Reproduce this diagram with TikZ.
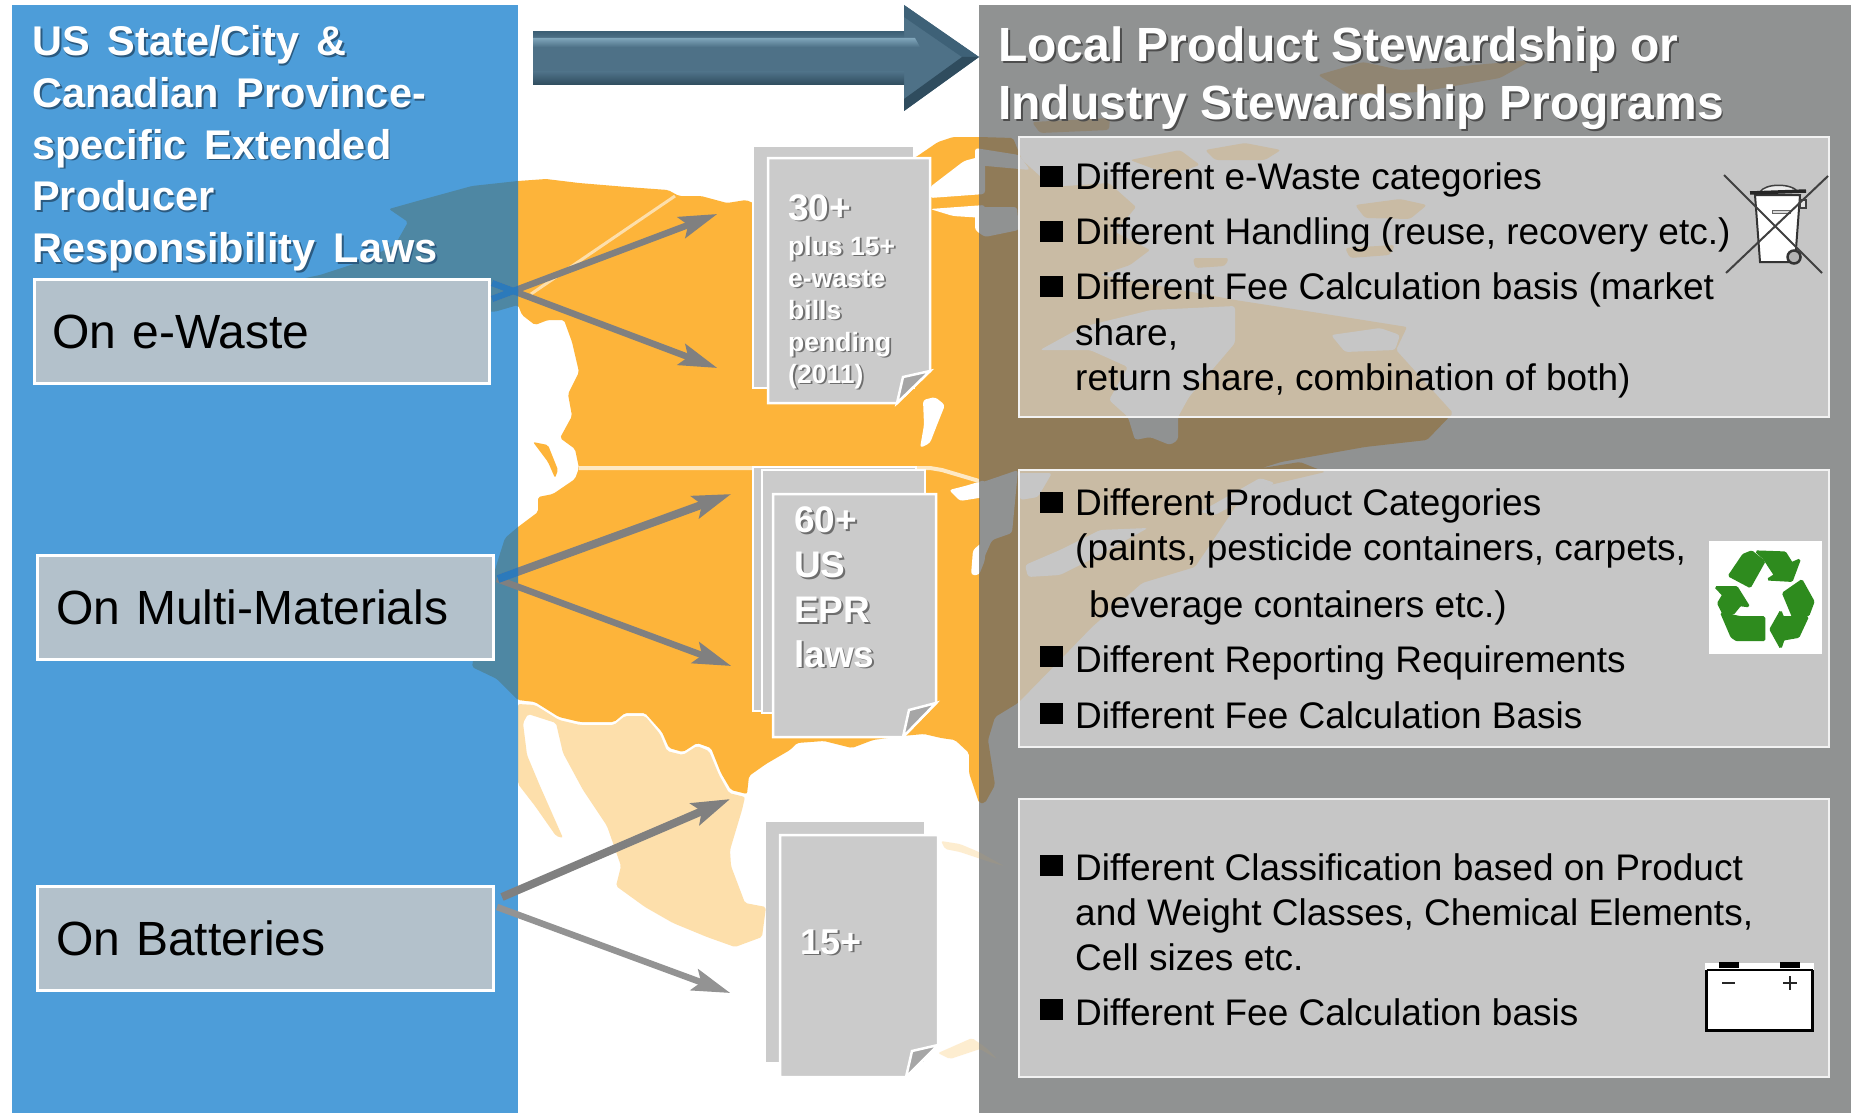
\documentclass[tikz,border=0pt]{standalone}
\usepackage{fontspec}
\setmainfont{Liberation Sans}
\newfontfamily\ltfont[WordSpace=1.55]{Liberation Sans}
\usetikzlibrary{arrows.meta,calc}
\definecolor{panelblue}{HTML}{4D9DD9}
\definecolor{panelgray}{HTML}{909292}
\definecolor{teal}{HTML}{4E87A3}
\definecolor{orangeland}{HTML}{FDB43A}
\definecolor{paleland}{HTML}{FDDFAB}
\definecolor{tanland}{HTML}{907B58}
\definecolor{tanbox}{HTML}{C9BBA4}
\definecolor{boxgray}{HTML}{C6C6C6}
\definecolor{leftfill}{HTML}{B3C1CB}
\definecolor{docfill}{HTML}{CBCBCB}
\definecolor{foldfill}{HTML}{A6A6A6}
\definecolor{arrowblue}{HTML}{2C7ABB}
\definecolor{recgreen}{HTML}{2E8B1E}
\definecolor{HTMLarrow}{HTML}{4E7187}
\definecolor{HTMLarrowb}{HTML}{3E6177}
\definecolor{HTMLarrowl}{HTML}{80A6BB}
\definecolor{HTMLarrowd}{HTML}{2F4C5E}
\definecolor{HTMLgrayarrow}{HTML}{808080}
\definecolor{HTMLgrayarrowb}{HTML}{939393}
\definecolor{HTMLshblue}{HTML}{2B5A80}
\definecolor{HTMLshgray}{HTML}{4D4D4D}
\definecolor{HTMLshdoc}{HTML}{6E6E6E}
\colorlet{shcol}{black}
\newcommand\shad[1]{\rlap{\kern1.8pt\raisebox{-1.8pt}{\color{shcol}#1}}#1}
\newcommand\mappaint[3]{%
 \fill[fill=#1,rounded corners=2pt] (389,209)--(421,200)--(472,186)--(518,181)--(546,179)--(579,183)--(627,187)--(668,190)--(679,196)--(701,196)--(727,203)--(746,200)--(753,203)--(850,190)--(916,157)--(938,142)--(953,137)--(979,137)--(1013,138)--(1022,160)--(1052,187)--(1109,183)--(1136,207)--(1115,232)--(1150,250)--(1130,265)--(1100,275)--(1235,300)--(1319,313)--(1407,327)--(1396,350)--(1453,413)--(1427,440)--(1365,447)--(1281,462)--(1262,468)--(1300,462)--(1325,472)--(1270,485)--(1240,500)--(1195,567)--(1142,583)--(1092,627)--(1060,660)--(1018,703)--(995,717)--(988,740)--(995,785)--(985,803)--(979,803)--(969,773)--(969,753)--(955,740)--(941,738)--(924,734)--(902,736)--(873,740)--(852,748)--(824,741)--(797,743)--(790,750)--(766,764)--(749,776)--(747,794)--(731,790)--(721,773)--(711,748)--(697,743)--(683,752)--(669,748)--(662,732)--(645,713)--(625,713)--(614,722)--(580,722)--(559,717)--(535,702)--(518,700)--(497,679)--(472,667)--(480,620)--(498,560)--(505,538)--(518,527)--(538,512)--(538,497)--(553,494)--(575,479)--(579,468)--(575,449)--(560,438)--(572,416)--(568,394)--(579,372)--(572,342)--(564,320)--(548,320)--(535,325)--(522,315)--(518,305)--(494,312)--(300,279)--(320,275)--(360,262)--(395,245)--(408,222)--cycle;
 \fill[fill=#2,rounded corners=2pt] (518,704)--(535,705)--(559,720)--(580,725)--(614,725)--(625,716)--(645,716)--(660,734)--(667,751)--(683,755)--(697,746)--(709,751)--(719,775)--(729,793)--(745,797)--(742,810)--(730,850)--(731,866)--(745,903)--(766,907)--(762,937)--(735,947)--(707,937)--(673,923)--(645,907)--(616,886)--(621,866)--(607,826)--(583,790)--(563,753)--(556,723)--(528,714)--(523,723)--(527,755)--(540,786)--(563,838)--(556,836)--(535,806)--(518,784)--cycle;
 \fill[fill=#3,rounded corners=3pt] (1040,350)--(1082,327)--(1151,310)--(1235,306)--(1235,343)--(1189,397)--(1178,417)--(1178,440)--(1170,445)--(1150,437)--(1135,440)--(1128,417)--(1109,400)--(1128,367)--(1090,350)--cycle;
 \fill[fill=#3,rounded corners=3pt] (1331,335)--(1380,328)--(1400,335)--(1395,350)--(1345,352)--cycle;
 \fill[fill=#3,rounded corners=3pt] (975,207)--(1017,207)--(1019,230)--(985,237)--(975,230)--cycle;
 \fill[fill=#3,rounded corners=3pt] (975,148)--(1019,155)--(1030,170)--(975,165)--cycle;
 \fill[fill=#3,rounded corners=3pt] (980,483)--(1018,470)--(1012,533)--(992,540)--(980,567)--cycle;
 \fill[fill=#3,rounded corners=3pt] (1018,473)--(1052,473)--(1038,497)--(1020,500)--cycle;
 \fill[fill=#3,rounded corners=3pt] (1025,565)--(1060,550)--(1100,530)--(1148,528)--(1090,560)--(1060,575)--(1028,577)--cycle;
 \fill[fill=#3,rounded corners=3pt] (1200,512)--(1260,478)--(1275,483)--(1215,515)--cycle;
 \fill[fill=#3,rounded corners=3pt] (971,575)--(973,550)--(985,540)--(985,560)--(979,575)--cycle;
 \fill[fill=#3,rounded corners=3pt] (949,490)--(965,486)--(985,480)--(985,497)--(960,501)--cycle;
 \fill[fill=#3,rounded corners=3pt] (923,400)--(935,397)--(945,405)--(937,425)--(930,443)--(920,448)--(924,425)--cycle;
 \fill[fill=#3,rounded corners=3pt] (930,187)--(964,161)--(979,157)--(985,157)--(985,194)--(930,198)--cycle;
 \fill[fill=#3,rounded corners=3pt] (930,209)--(985,205)--(985,218)--(953,216)--cycle;
 \begin{scope}[opacity=.55]
 \fill[fill=#1,rounded corners=3pt] (1318,75)--(1363,62)--(1400,70)--(1440,68)--(1532,60)--(1500,78)--(1420,92)--(1350,95)--cycle;
 \fill[fill=#1,rounded corners=3pt] (1032,122)--(1110,118)--(1109,130)--(1040,133)--cycle;
 \end{scope}
 \fill[fill=#1,rounded corners=3pt] (1205,150)--(1245,143)--(1281,150)--(1265,160)--(1215,160)--cycle;
 \fill[fill=#1,rounded corners=3pt] (1130,160)--(1180,150)--(1200,165)--(1170,175)--cycle;
 \fill[fill=#1,rounded corners=3pt] (1193,258)--(1229,258)--(1225,266)--(1195,268)--cycle;
 \fill[fill=#1,rounded corners=3pt] (1355,205)--(1400,199)--(1427,205)--(1410,219)--(1365,218)--cycle;
 \fill[fill=#1,rounded corners=3pt] (1345,248)--(1395,245)--(1390,255)--(1350,258)--cycle;
 \fill[fill=#1,rounded corners=2pt] (533,442)--(548,445)--(558,470)--(555,478)--(548,462)--cycle;
 \begin{scope}[opacity=.55]
 \fill[fill=#2,rounded corners=2pt] (941,841)--(960,844)--(979,852)--(1004,866)--(990,862)--(960,852)--(945,849)--cycle;
 \fill[fill=#2,rounded corners=2pt] (938,1053)--(972,1038)--(985,1047)--(997,1059)--(980,1049)--(950,1059)--cycle;
 \end{scope}
}
\tikzset{
 leftbox/.style={draw=white,line width=3pt,fill=leftfill,minimum width=455pt,minimum height=104pt,anchor=north west,inner xsep=17pt,inner ysep=0pt,text width=419pt,align=left,font=\fontsize{48}{52}\selectfont,text=black},
 rightbox/.style={draw=white!90!gray,line width=1.5pt,minimum width=810pt,anchor=north west,inner sep=0pt},
 titletext/.style={anchor=base west,inner sep=0pt,align=left,text=white},
 bodytext/.style={anchor=base west,inner sep=0pt,align=left,text=black,font=\fontsize{37}{45.5}\selectfont},
 doctext/.style={anchor=base west,inner sep=0pt,align=left,text=white},
 sheet/.style={fill=docfill,draw=white,line width=2.5pt},
 backsheet/.style={fill=docfill,draw=white,line width=2pt},
 foldmark/.style={fill=foldfill,draw=white,line width=2.5pt,line join=miter},
 thinarrow/.style={line width=6.5pt,-{Stealth[length=38pt,width=22pt,inset=7pt]}},
 widearrow/.style={line width=8pt,-{Stealth[length=38pt,width=23pt,inset=7pt]}},
}
\begin{document}
\begin{tikzpicture}[x=1pt,y=-1pt]
\useasboundingbox (0,0) rectangle (1851,1113);
\fill[white] (0,0) rectangle (1851,1113);
% central map
\begin{scope}
 \clip (518,0) rectangle (979,1113);
 \mappaint{orangeland}{paleland}{white}
 \draw[paleland,line width=3pt] (675,196)--(531,294);
 \draw[paleland!70!white,line width=4pt] (579,468)--(930,468)--(942,470)--(979,481);
\end{scope}
% left panel
\fill[panelblue] (12,5) rectangle (518,1113);
\begin{scope}
 \clip (12,5) rectangle (518,1113);
 \mappaint{teal}{panelblue}{panelblue}
\end{scope}
% right panel
\fill[panelgray] (979,5) rectangle (1851,1113);
\begin{scope}
 \clip (979,5) rectangle (1851,1113);
 \mappaint{tanland}{panelgray!85!orangeland}{panelgray}
\end{scope}
% right boxes
\fill[boxgray] (1018,136) rectangle (1829,416);
\begin{scope}\clip (1018,136) rectangle (1829,416);\mappaint{tanbox}{boxgray}{boxgray}\end{scope}
\fill[boxgray] (1018,469) rectangle (1829,746);
\begin{scope}\clip (1018,469) rectangle (1829,746);\mappaint{tanbox}{boxgray}{boxgray}\end{scope}
\fill[boxgray] (1018,798) rectangle (1829,1076);
\node[rightbox,minimum height=280pt] (rb1) at (1018,136) {};
\node[rightbox,minimum height=277pt] (rb2) at (1018,469) {};
\node[rightbox,minimum height=278pt] (rb3) at (1018,798) {};
% big arrow
\fill[fill=HTMLarrow] (533,32)--(904,32)--(904,5)--(979,57)--(904,111)--(904,85)--(533,85)--cycle;
\shade[top color=HTMLarrowb,bottom color=HTMLarrow] (533,32) rectangle (904,38);
\shade[top color=HTMLarrowl,bottom color=HTMLarrow] (533,38)--(915,38)--(920,47)--(533,47)--cycle;
\shade[top color=HTMLarrow,bottom color=HTMLarrowd] (533,72) rectangle (904,85);
\fill[fill=HTMLarrowb] (904,5)--(979,57)--(962,57)--(904,17)--cycle;
\fill[fill=HTMLarrowd] (904,111)--(979,57)--(962,57)--(904,99)--cycle;
% left boxes
\node[leftbox] (ew) at (33,278) {On e-Waste};
\node[leftbox,minimum width=456pt] (mm) at (36,554) {On Multi-Materials};
\node[leftbox,minimum width=456pt] (bt) at (36,885) {On Batteries};
% documents
\fill[backsheet] (753,146)--(914,146)--(914,388)--(753,388)--cycle;
\node[anchor=center,inner sep=0pt] (d1) at (849,280) {};
\fill[sheet] (768,158)--(930,158)--(930,371)--(897,403)--(768,403)--cycle;
\fill[foldmark] (903,377)--(930,371)--(897,403)--cycle;
\fill[backsheet] (753,467)--(916,467)--(916,711)--(753,711)--cycle;
\fill[backsheet] (762,470)--(925,470)--(925,713)--(762,713)--cycle;
\node[anchor=center,inner sep=0pt] (d2) at (855,617) {};
\fill[sheet] (773,494)--(936,494)--(936,703)--(903,737)--(773,737)--cycle;
\fill[foldmark] (909,710)--(936,703)--(903,737)--cycle;
\fill[docfill] (766,822) rectangle (924,1062);
\node[anchor=center,inner sep=0pt] (d3) at (859,956) {};
\fill[sheet,draw=white] (780,835)--(938,835)--(938,1045)--(906,1077)--(780,1077)--cycle;
\fill[foldmark] (912,1051)--(938,1045)--(906,1077)--cycle;
% connectors
\coordinate (a1s) at ($(ew.north east)+(1,21)$);
\coordinate (a2s) at ($(ew.north east)+(1,5)$);
\coordinate (a1e) at ($(d1.west)+(-131,-66)$);
\coordinate (a2e) at ($(d1.west)+(-131,88)$);
\coordinate (a3s) at ($(mm.north east)+(3,25)$);
\coordinate (a4s) at ($(mm.north east)+(2,25)$);
\coordinate (a3e) at ($(d2.west)+(-123,-123)$);
\coordinate (a4e) at ($(d2.west)+(-123,49)$);
\coordinate (a5s) at ($(bt.north east)+(7,12)$);
\coordinate (a6s) at ($(bt.north east)+(2,22)$);
\coordinate (a5e) at ($(d3.west)+(-128,-157)$);
\coordinate (a6e) at ($(d3.west)+(-128,37)$);
\draw[thinarrow,color=HTMLgrayarrow] (a1s)--(a1e);
\draw[thinarrow,color=HTMLgrayarrow] (a2s)--(a2e);
\draw[widearrow,color=HTMLgrayarrow] (a3s)--(a3e);
\draw[thinarrow,color=HTMLgrayarrow] (a4s)--(a4e);
\draw[widearrow,color=HTMLgrayarrow] (a5s)--(a5e);
\draw[thinarrow,color=HTMLgrayarrowb] (a6s)--(a6e);
\begin{scope}
 \clip (491,270) rectangle (518,600);
 \draw[line width=6.5pt,arrowblue] (a1s)--(a1e);
 \draw[line width=6.5pt,arrowblue] (a2s)--(a2e);
 \draw[line width=8pt,arrowblue] (a3s)--(a3e);
\end{scope}
% titles
\colorlet{shcol}{HTMLshblue}
\node[titletext,font=\ltfont\fontsize{41.5}{51.7}\selectfont\bfseries] (lt) at (32,262.5) {\shad{US State/City \&}\\\shad{Canadian Province-}\\\shad{specific Extended}\\\shad{Producer}\\\shad{Responsibility Laws}};
\colorlet{shcol}{HTMLshgray}
\node[titletext,font=\fontsize{48}{58.6}\selectfont\bfseries] (rt) at (998,120) {\shad{Local Product Stewardship or}\\\shad{Industry Stewardship Programs}};
% doc labels
\colorlet{shcol}{HTMLshdoc}
\node[doctext,font=\fontsize{37}{37}\selectfont\bfseries] (t30) at (788,220) {\shad{30+}};
\node[doctext,font=\fontsize{26.5}{32}\selectfont\bfseries] (t30b) at (788,383) {\shad{plus 15+}\\\shad{e-waste}\\\shad{bills}\\\shad{pending}\\\shad{(2011)}};
\node[doctext,font=\fontsize{37}{44.8}\selectfont\bfseries] (t60) at (794,667) {\shad{60+}\\\shad{US}\\\shad{EPR}\\\shad{laws}};
\node[doctext,font=\fontsize{36}{36}\selectfont\bfseries] (t15) at (800,954) {\shad{15+}};
% bullets
\foreach \yy in {166,221,276,492,646,703,855,999}{\fill[black] (1040,\yy) rectangle (1063,\yy+21);}
\node[bodytext] (b1a) at (1075,189) {Different e-Waste categories};
\node[bodytext] (b1b) at (1075,244.5) {Different Handling (reuse, recovery etc.)};
\node[bodytext] (b1c) at (1075,390.5) {Different Fee Calculation basis (market\\share,\\return share, combination of both)};
\node[bodytext,font=\fontsize{37}{45}\selectfont] (b2a) at (1075,560.5) {Different Product Categories\\(paints, pesticide containers, carpets,};
\node[bodytext] (b2b) at (1089,617.5) {beverage containers etc.)};
\node[bodytext] (b2c) at (1075,672.5) {Different Reporting Requirements};
\node[bodytext] (b2d) at (1075,728.5) {Different Fee Calculation Basis};
\node[bodytext,font=\fontsize{37}{44.8}\selectfont] (b3a) at (1075,970) {Different Classification based on Product\\and Weight Classes, Chemical Elements,\\Cell sizes etc.};
\node[bodytext] (b3b) at (1075,1025) {Different Fee Calculation basis};
% bin icon
\fill[white,draw=black!80,line width=2pt] (1755,195)--(1800,195)--(1795,262)--(1760,262)--cycle;
\fill[white!85!gray,draw=black!75,line width=1.5pt] (1760,192) .. controls (1765,183) and (1792,183) .. (1798,192)--cycle;
\draw[black!85,line width=3.5pt] (1750,193)--(1806,191);
\draw[black!75,line width=1.5pt,fill=white!80!gray] (1800,200) rectangle (1806,208);
\draw[black!60,line width=1pt,fill=white!70!gray] (1772,210) rectangle (1790,213);
\draw[black!75,line width=2pt] (1724,175)--(1822,273);
\draw[black!75,line width=2pt] (1828,176)--(1726,273);
\fill[black!30,draw=black!80,line width=2.5pt] (1794,257) circle (6.5);
% recycle icon
\fill[white] (1709,541) rectangle (1822,654);
\begin{scope}[shift={(1690,530)},x=.3333pt,y=-.3333pt,fill=recgreen,draw=recgreen,line width=2.5pt,rounded corners=1pt]
 \filldraw (118,137)--(160,75)--(185,65)--(222,95)--(180,170)--cycle;
 \filldraw (200,65)--(285,68)--(305,100)--(328,90)--(305,152)--(235,148)--(255,135)--(222,85)--cycle;
 \filldraw (78,172)--(140,172)--(175,228)--(150,225)--(130,250)--(100,250)--(85,220)--(100,195)--cycle;
 \filldraw (95,250)--(150,262)--(222,262)--(222,330)--(140,330)--(125,320)--cycle;
 \filldraw (280,190)--(335,152)--(370,215)--(355,255)--(310,262)--cycle;
 \filldraw (272,245)--(278,262)--(352,262)--(325,320)--(280,328)--(272,352)--(242,298)--cycle;
\end{scope}
% battery icon
\fill[white] (1705,963) rectangle (1814,1032);
\fill[black] (1719,962) rectangle (1739,968);
\fill[black] (1780,962) rectangle (1800,968);
\draw[black,line width=2.5pt] (1706.5,970) -- (1812.5,970);
\draw[black,line width=3.5pt] (1706.5,970)--(1706.5,1030.5)--(1812.5,1030.5)--(1812.5,970);
\draw[black!85,line width=2.5pt] (1722,983)--(1735,983);
\draw[black!85,line width=2.5pt] (1783,983)--(1797,983) (1790,976)--(1790,990);
\end{tikzpicture}
\end{document}
